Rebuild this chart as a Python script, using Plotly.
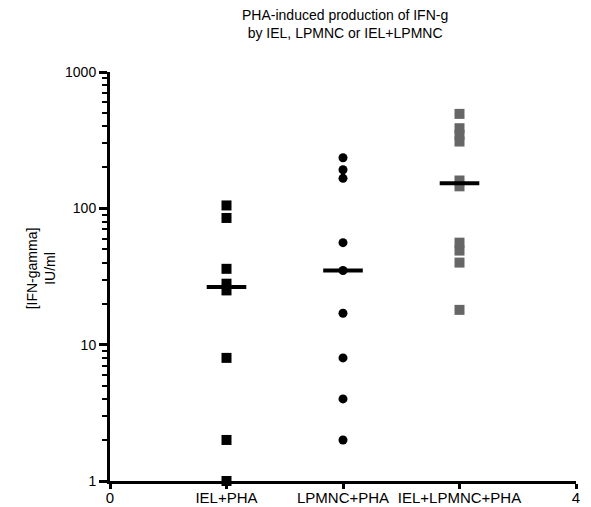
import plotly.graph_objects as go

# Group labels and x positions on the categorical 0..4 axis
groups = ["IEL+PHA", "LPMNC+PHA", "IEL+LPMNC+PHA"]
group_pos = [1, 2, 3]

# IFN-gamma (IU/ml) per sample
iel_pha = [105, 85, 36, 28, 25, 8, 2, 1]
lpmnc_pha = [235, 192, 166, 56, 35, 17, 8, 4, 2]
iel_lpmnc_pha = [493, 387, 346, 309, 160, 145, 56, 49, 40, 18]

# Group medians (horizontal bars)
medians = [26.5, 35, 153]

x_ticks = [0, 1, 2, 3, 4]
x_ticktext = ["0"] + groups + ["4"]
y_ticks = [1, 10, 100, 1000]
y_ticktext = ["1", "10", "100", "1000"]
y_minor = [m * d for d in (1, 10, 100) for m in range(2, 10)]

FONT = "Liberation Sans, Arial, sans-serif"

fig = go.Figure()

series = [
    (iel_pha, "square", "#000000", 10),
    (lpmnc_pha, "circle", "#000000", 9),
    (iel_lpmnc_pha, "square", "#666666", 10),
]
for pos, (vals, sym, col, size) in zip(group_pos, series):
    fig.add_trace(go.Scatter(
        x=[pos] * len(vals), y=vals, mode="markers",
        marker=dict(symbol=sym, color=col, size=size, line=dict(width=0)),
        cliponaxis=False, showlegend=False, hoverinfo="y",
    ))

half = 0.17
for pos, med in zip(group_pos, medians):
    fig.add_trace(go.Scatter(
        x=[pos - half, pos + half], y=[med, med], mode="lines",
        line=dict(color="#000000", width=4),
        showlegend=False, hoverinfo="y",
    ))

fig.update_layout(
    width=591, height=507,
    margin=dict(l=110, r=15, t=72, b=26),
    paper_bgcolor="white", plot_bgcolor="white",
    font=dict(family=FONT, size=14, color="#000000"),
    annotations=[
        dict(
            text="PHA-induced production of IFN-g<br>by IEL, LPMNC or IEL+LPMNC",
            xref="paper", yref="paper", x=0.505, y=1.118,
            xanchor="center", yanchor="middle", showarrow=False,
            font=dict(family=FONT, size=14, color="#000000"),
        ),
        dict(
            text="[IFN-gamma]<br>IU/ml", textangle=-90,
            xref="paper", yref="paper", x=-0.148, y=0.52,
            xanchor="center", yanchor="middle", showarrow=False,
            font=dict(family=FONT, size=14, color="#000000"),
        ),
    ],
)

fig.update_xaxes(
    range=[0, 4], tickmode="array", tickvals=x_ticks, ticktext=x_ticktext,
    showline=True, linecolor="#000000", linewidth=3,
    ticks="outside", ticklen=5, tickwidth=3, tickcolor="#000000",
    ticklabelstandoff=-4, tickangle=0,
    showgrid=False, zeroline=False, automargin=False,
    tickfont=dict(family=FONT, size=15),
)
fig.update_yaxes(
    type="log", range=[0, 3], tickmode="array", tickvals=y_ticks, ticktext=y_ticktext,
    showline=True, linecolor="#000000", linewidth=3,
    ticks="outside", ticklen=8, tickwidth=3, tickcolor="#000000",
    minor=dict(tickmode="array", tickvals=y_minor, ticks="outside",
               ticklen=5, tickwidth=2, tickcolor="#000000", showgrid=False),
    showgrid=False, zeroline=False, automargin=False,
    tickfont=dict(family=FONT, size=14),
)

fig.write_html("out.html")
